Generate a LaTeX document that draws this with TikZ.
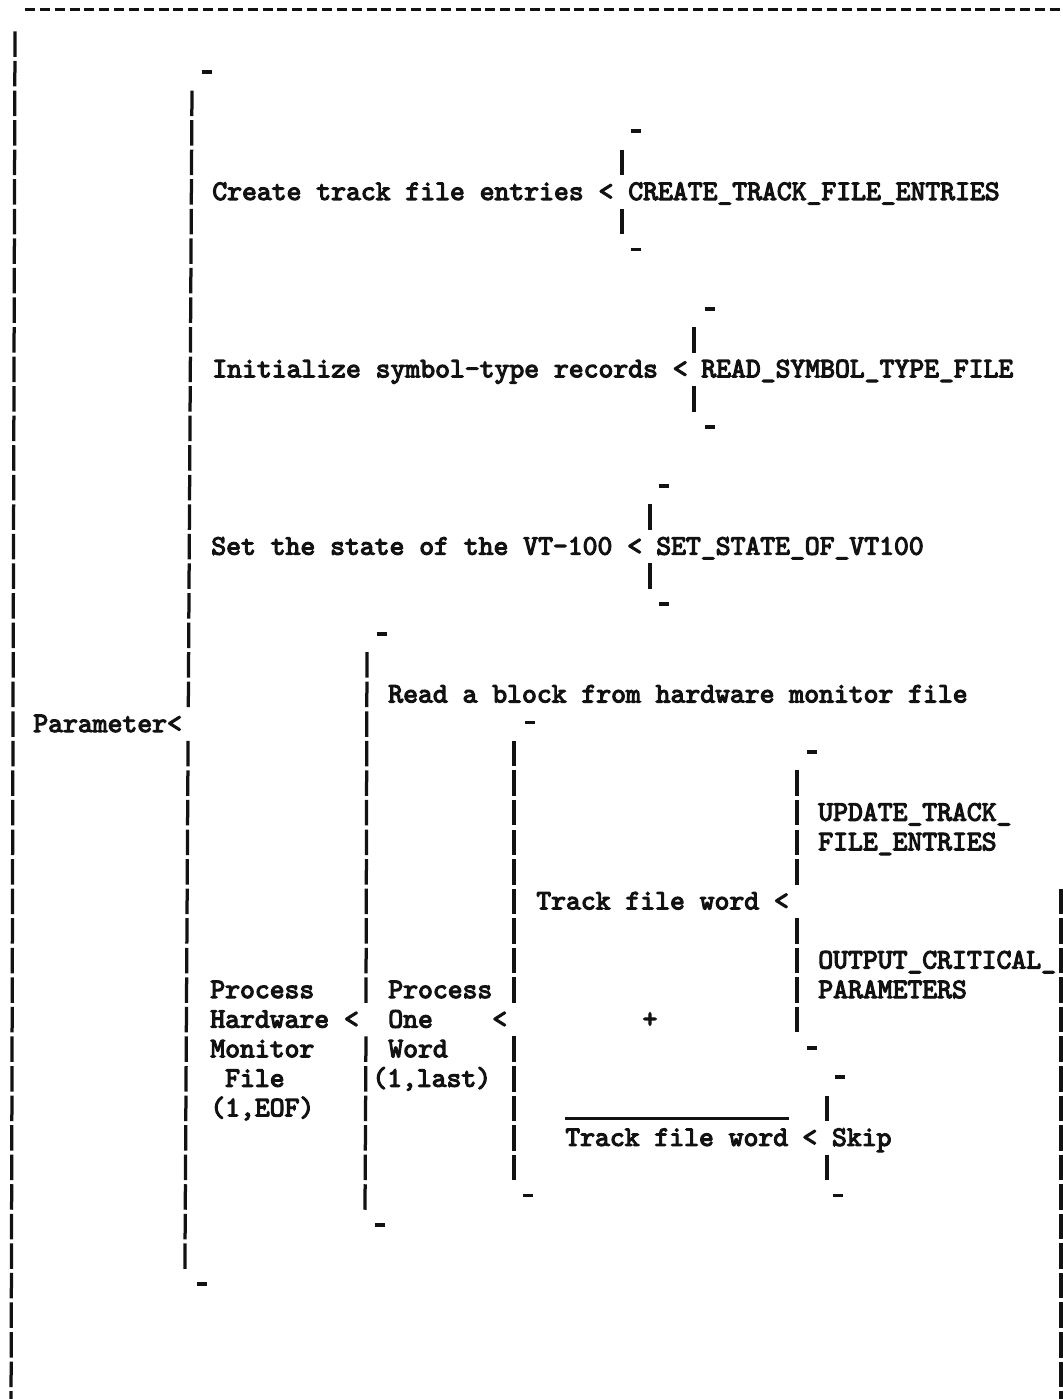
\documentclass[tikz,border=0pt]{standalone}
\usepackage{fontspec}
\usepackage{tikz}
\usepackage{xcolor}
\newfontfamily\typewfont{lmmono10-regular.otf}[FakeBold=4]
\definecolor{tinta}{RGB}{18,18,18}

\begin{document}
\begin{tikzpicture}[
    x=0.2mm, y=-5.912mm,
    typed/.style={anchor=base west, inner sep=0pt, yshift=-1.6mm, text=tinta,
        font=\fontsize{16.1}{19}\selectfont\typewfont},
    vbar/.style={draw=tinta, line width=0.65mm, dash pattern=on 5.1mm off 0.812mm, dash phase=5.506mm},
    hdash/.style={draw=tinta, line width=0.65mm, dash pattern=on 2mm off 0.97mm},
    endmark/.style={draw=tinta, line width=0.75mm},
    overbar/.style={draw=tinta, line width=0.6mm}
]
\useasboundingbox (0,-0.494) rectangle (1063,46.834);

% Marco de la hoja
\coordinate (topL) at (25,-0.16);
\coordinate (topR) at (1070,-0.16);
\coordinate (frameTL) at (15,0.5);
\coordinate (frameBL) at (11,47.5);
\coordinate (frameTR) at (1061,29.5);
\coordinate (frameBR) at (1061,47.5);
\draw[hdash] (topL) -- (topR);
\draw[vbar] (frameTL) -- (frameBL);
\draw[vbar] (frameTR) -- (frameBR);

% Llaves (barras verticales, cortadas donde va el <)
\draw[vbar] (192,2.5) -- (188.3,23.5);
\draw[vbar] (188.1,24.5) -- (184.9,42.5);
\draw[vbar] (622,4.5) -- (622,5.5);
\draw[vbar] (622,6.5) -- (622,7.5);
\draw[vbar] (694,10.5) -- (694,11.5);
\draw[vbar] (694,12.5) -- (694,13.5);
\draw[vbar] (650,16.5) -- (650,17.5);
\draw[vbar] (650,18.5) -- (650,19.5);
\draw[vbar] (367,21.5) -- (366,33.5);
\draw[vbar] (366,34.5) -- (365,40.5);
\draw[vbar] (514,24.5) -- (514,33.5);
\draw[vbar] (514,34.5) -- (514,39.5);
\draw[vbar] (797,25.5) -- (797,29.5);
\draw[vbar] (797,30.5) -- (797,34.5);
\draw[vbar] (827,36.5) -- (827,37.5);
\draw[vbar] (827,38.5) -- (827,39.5);

% Guiones de inicio y fin de cada llave
\foreach \x/\k in {207/2, 202/43, 636/4, 636/8, 710/10, 710/14, 664/16, 664/20,
                   382/21, 380/41, 530/24, 528/40, 812/25, 812/35, 840/36, 838/40} {
    \draw[endmark] (\x-5,\k-0.05) -- ++(10,0);
}

% Textos
\node[typed] (param) at (33,24) {Parameter<};
\node[typed] (create) at (212,6) {Create track file entries <};
\node[typed] (createMod) at (628,6) {CREATE\_TRACK\_FILE\_ENTRIES};
\node[typed] (init) at (212,12) {Initialize symbol-type records <};
\node[typed] (readMod) at (701,12) {READ\_SYMBOL\_TYPE\_FILE};
\node[typed] (state) at (211,18) {Set the state of the VT-100 <};
\node[typed] (stateMod) at (656,18) {SET\_STATE\_OF\_VT100};
\node[typed] (readBlock) at (388,23) {Read a block from hardware monitor file};

\foreach \t [count=\i from 33] in {Process, Hardware <, Monitor, ~File, {(1,EOF)}} {
    \node[typed] (hw\i) at (210,\i) {\t};
}
\node[typed] (word1) at (388,33) {Process};
\node[typed] (word2) at (388,34) {One~~~~<};
\node[typed] (word3) at (388,35) {Word};
\node[typed] (word4) at (372,36) {(1,last)};

\node[typed] (track) at (536,30) {Track file word <};
\node[typed] (upd1) at (818,27) {UPDATE\_TRACK\_};
\node[typed] (upd2) at (818,28) {FILE\_ENTRIES};
\node[typed] (out1) at (818,32) {OUTPUT\_CRITICAL\_};
\node[typed] (out2) at (818,33) {PARAMETERS};
\node[typed, anchor=base] (xor) at (650,34) {+};

% Alternativa negada
\node[typed] (skipWord) at (565,38) {Track file word};
\node[typed] (skipSel) at (802,38) {< Skip};
\draw[overbar] ([yshift=2mm]skipWord.north west) -- ([yshift=2mm]skipWord.north east);

\end{tikzpicture}
\end{document}
